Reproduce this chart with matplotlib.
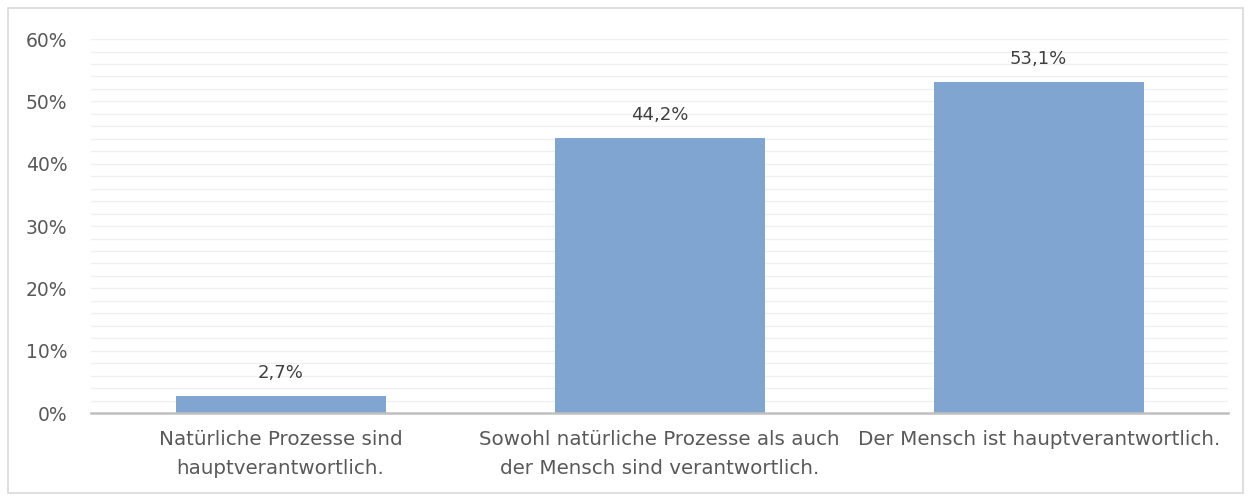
import matplotlib.pyplot as plt
from matplotlib.patches import Rectangle
from matplotlib.ticker import MultipleLocator, PercentFormatter

categories = [
    "Natürliche Prozesse sind\nhauptverantwortlich.",
    "Sowohl natürliche Prozesse als auch\nder Mensch sind verantwortlich.",
    "Der Mensch ist hauptverantwortlich.",
]
values = [2.7, 44.2, 53.1]
value_labels = ["2,7%", "44,2%", "53,1%"]

BAR = "#7FA5D0"
TEXT = "#595959"

plt.rcParams["font.family"] = ["DejaVu Sans"]

fig = plt.figure(figsize=(12.52, 5.01), dpi=100)
ax = fig.add_axes([0.0727, 0.1756, 0.9083, 0.7464])

x = range(len(categories))
bars = ax.bar(x, values, width=0.554, color=BAR, zorder=3)

# value labels sit a little above each bar
for b, lab in zip(bars, value_labels):
    ax.annotate(lab, (b.get_x() + b.get_width() / 2, b.get_height()),
                xytext=(0, 10), textcoords="offset points",
                ha="center", va="bottom", fontsize=13, color="#404040")

ax.set_xlim(-0.5, 2.5)
ax.set_ylim(0, 60)
ax.yaxis.set_major_locator(MultipleLocator(10))
ax.yaxis.set_minor_locator(MultipleLocator(2))
ax.yaxis.set_major_formatter(PercentFormatter(decimals=0))
ax.grid(axis="y", which="both", color="#F0F0F0", linewidth=1.0, zorder=0)

ax.set_xticks(list(x))
ax.set_xticklabels(categories, fontsize=14.3, color=TEXT, linespacing=1.72)
ax.tick_params(axis="x", length=0, pad=12)
ax.tick_params(axis="y", which="both", length=0, pad=17, labelsize=13.5,
               labelcolor=TEXT)

for side in ["top", "right", "left"]:
    ax.spines[side].set_visible(False)
ax.spines["bottom"].set_color("#BFBFBF")
ax.spines["bottom"].set_linewidth(1.8)
ax.spines["bottom"].set_zorder(4)

# light frame around the whole chart
fig.patches.append(Rectangle((8 / 1252, 8 / 501), 1235 / 1252, 485 / 501,
                             transform=fig.transFigure, fill=False,
                             edgecolor="#D9D9D9", linewidth=1.2))

fig.savefig("out.png", dpi=100)
